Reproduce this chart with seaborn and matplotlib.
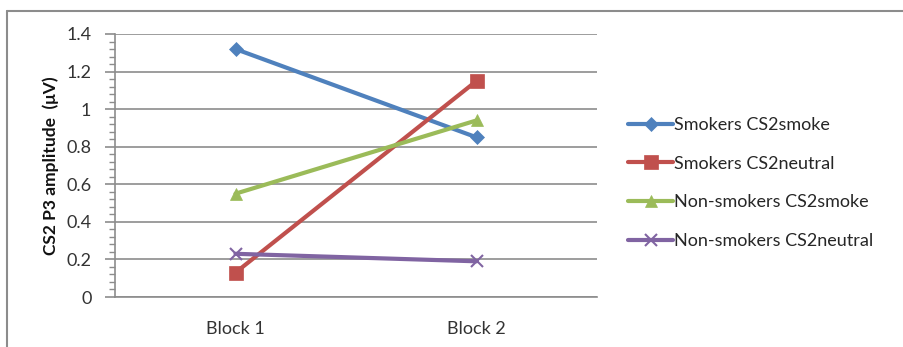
import matplotlib
matplotlib.use("Agg")
import matplotlib.pyplot as plt
import seaborn as sns
import pandas as pd
from matplotlib.lines import Line2D
from matplotlib.ticker import MultipleLocator

blocks = ["Block 1", "Block 2"]
series_names = [
    "Smokers CS2smoke",
    "Smokers CS2neutral",
    "Non-smokers CS2smoke",
    "Non-smokers CS2neutral",
]
smokers_smoke = [1.32, 0.85]
smokers_neutral = [0.13, 1.15]
nonsmokers_smoke = [0.55, 0.94]
nonsmokers_neutral = [0.23, 0.19]

colors = ["#4F81BD", "#C0504D", "#9BBB59", "#8064A2"]
markers = ["D", "s", "^", "x"]
msizes = [7, 10, 9, 9]

rows = []
for name, vals in zip(series_names,
                      [smokers_smoke, smokers_neutral, nonsmokers_smoke, nonsmokers_neutral]):
    for b, v in zip(blocks, vals):
        rows.append({"block": b, "pos": blocks.index(b), "series": name, "value": v})
df = pd.DataFrame(rows)

sns.set_theme(style="white")
plt.rcParams["font.family"] = ["Lato", "DejaVu Sans"]

fig = plt.figure(figsize=(9.04, 3.47), dpi=100)
ax = fig.add_axes([115 / 904, 1 - 297 / 347, (597 - 115) / 904, (297 - 34) / 347])

for name, c, m, ms in zip(series_names, colors, markers, msizes):
    sub = df[df["series"] == name]
    sns.lineplot(data=sub, x="pos", y="value", ax=ax, color=c, linewidth=3,
                 marker=m, markersize=ms, markeredgecolor=c,
                 markeredgewidth=1.5 if m == "x" else 0.5, legend=False)

ax.set_xlim(-0.5, 1.5)
ax.set_ylim(0, 1.4)
ax.set_xticks([0, 1])
ax.set_xticklabels(blocks, fontsize=13, color="#333333")
ax.yaxis.set_major_locator(MultipleLocator(0.2))
ax.yaxis.set_minor_locator(MultipleLocator(0.04))
ax.set_yticks([0, 0.2, 0.4, 0.6, 0.8, 1.0, 1.2, 1.4])
ax.set_yticklabels(["0", "0.2", "0.4", "0.6", "0.8", "1", "1.2", "1.4"], fontsize=13, color="#333333")
ax.set_xlabel("")
ax.set_ylabel("CS2 P3 amplitude  (\u03bcV)", fontsize=12.5, fontweight="bold", color="#111111", labelpad=5)

ax.grid(axis="y", color="#8c8c8c", linewidth=1.2)
ax.set_axisbelow(True)
for s in ["top", "right"]:
    ax.spines[s].set_visible(False)
ax.spines["left"].set_color("#8c8c8c")
ax.spines["bottom"].set_color("#8c8c8c")
ax.spines["left"].set_linewidth(1.2)
ax.spines["bottom"].set_linewidth(1.2)
ax.tick_params(axis="y", which="major", left=True, length=7, color="#8c8c8c", width=1.2, pad=10)
ax.tick_params(axis="y", which="minor", left=True, length=4, color="#8c8c8c", width=1)
ax.tick_params(axis="x", bottom=False, pad=11)

handles = [Line2D([0], [0], color=c, linewidth=3, marker=m, markersize=ms,
                  markeredgecolor=c, markeredgewidth=1.5 if m == "x" else 0.5)
           for c, m, ms in zip(colors, markers, msizes)]
fig.legend(handles, series_names, loc="upper left", bbox_to_anchor=(621 / 904, 1 - 110 / 347),
           frameon=False, fontsize=13, handlelength=2.5, handletextpad=0.05,
           labelspacing=1.25, borderaxespad=0)

# chart frame
fig.add_artist(Line2D([7 / 904, 1], [1 - 11 / 347, 1 - 11 / 347], transform=fig.transFigure,
                      color="#8c8c8c", linewidth=1.5))
fig.add_artist(Line2D([7 / 904, 7 / 904], [0, 1 - 11 / 347], transform=fig.transFigure,
                      color="#8c8c8c", linewidth=1.5))

fig.savefig("out.png", dpi=100)
